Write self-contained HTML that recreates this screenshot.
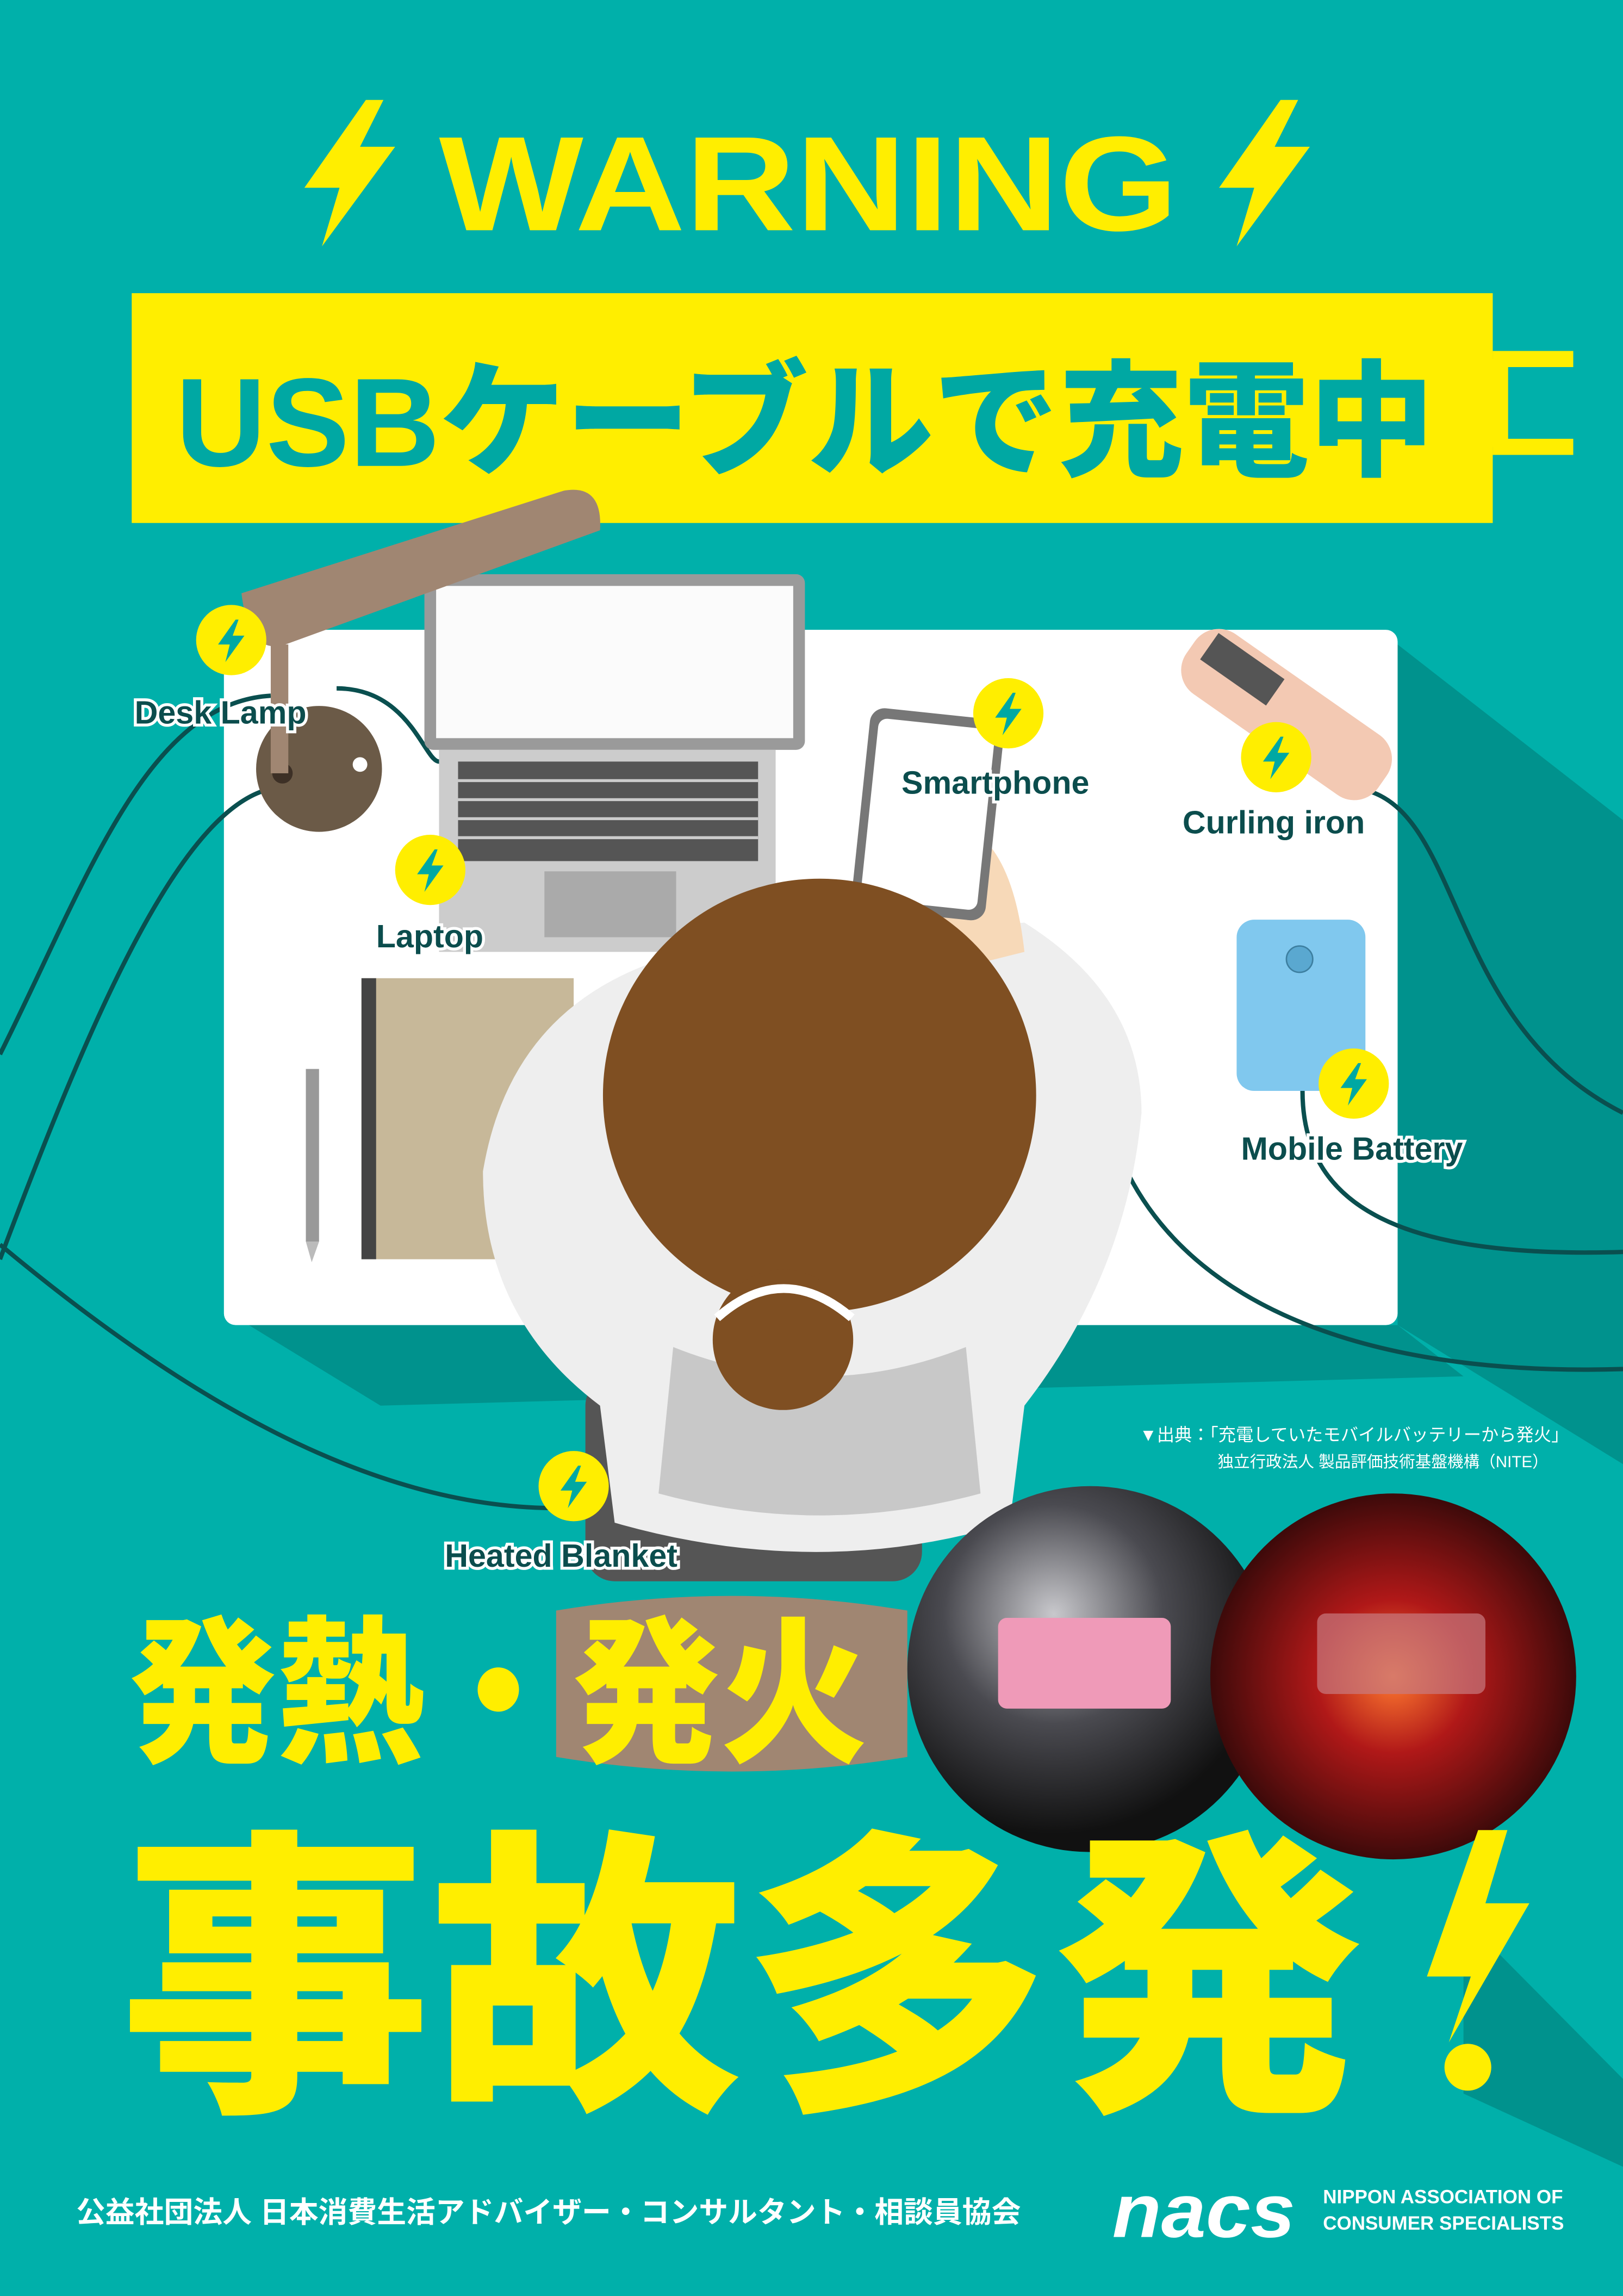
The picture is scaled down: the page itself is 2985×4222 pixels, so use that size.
<!DOCTYPE html>
<html><head><meta charset="utf-8"><style>
html,body{margin:0;padding:0;background:#00b0aa;}
svg{display:block;}
text{font-family:"Liberation Sans","Noto Sans CJK JP",sans-serif;}
</style></head><body>
<svg width="2985" height="4222" viewBox="0 0 1109 1568" xmlns="http://www.w3.org/2000/svg">
<defs>
<g id="b"><circle r="24" fill="#ffee00"/><polygon points="3,-14 -9,3 -1,3 -4,15 9,-3 1,-3 5,-14" fill="#00a8a3"/></g>
<radialGradient id="smk" cx="0.4" cy="0.35" r="0.6"><stop offset="0" stop-color="#c8c8cc"/><stop offset="0.5" stop-color="#4a4a50"/><stop offset="1" stop-color="#111"/></radialGradient>
<radialGradient id="fire" cx="0.5" cy="0.5" r="0.6"><stop offset="0" stop-color="#ff7a30"/><stop offset="0.35" stop-color="#b01818"/><stop offset="1" stop-color="#150505"/></radialGradient>
</defs>
<rect width="1109" height="1568" fill="#00b0aa"/>
<polygon points="955,440 1109,560 1109,1000 955,905" fill="#00928d"/>
<polygon points="170,905 955,905 1000,940 260,960" fill="#00928d"/>
<polygon points="1000,1310 1109,1420 1109,1480 1000,1430" fill="#00928d"/>
<g fill="#ffee00">
<polygon points="250,68 208,128 232,128 220,168 270,100 246,100 262,68"/>
<polygon points="875,68 833,128 857,128 845,168 895,100 871,100 887,68"/>
</g>
<text x="300" y="157" font-size="92" font-weight="bold" fill="#ffee00" textLength="505" lengthAdjust="spacingAndGlyphs">WARNING</text>
<rect x="90" y="200" width="930" height="157" fill="#ffee00"/>
<path d="M1020,245 H1075 M1020,305 H1075 M1025,245 V305" stroke="#ffee00" stroke-width="11" fill="none"/>
<text x="120" y="318" font-size="86" font-weight="900" fill="#00a8a3" textLength="860" lengthAdjust="spacingAndGlyphs">USBケーブルで充電中</text>
<rect x="153" y="430" width="802" height="475" rx="8" fill="#ffffff"/>
<g stroke="#0a4f4f" stroke-width="3" fill="none">
<path d="M185,475 C100,480 60,600 0,720"/>
<path d="M180,540 C120,560 60,700 0,860"/>
<path d="M230,470 C280,470 290,520 300,520"/>
<path d="M0,850 C120,950 250,1030 380,1030"/>
<path d="M935,540 C1000,560 990,700 1109,760"/>
<path d="M890,745 C890,820 950,860 1109,855"/>
<path d="M770,800 C820,900 950,940 1109,935"/>
<path d="M640,620 L640,650"/>
</g>
<rect x="290" y="392" width="260" height="120" rx="6" fill="#9a9a9a"/>
<rect x="298" y="400" width="244" height="104" fill="#fbfbfb"/>
<polygon points="300,512 530,512 530,650 300,650" fill="#cccccc"/>
<rect x="313" y="520" width="205" height="68" fill="#555"/>
<g stroke="#ccc" stroke-width="2"><path d="M313,533H518M313,546H518M313,559H518M313,572H518"/></g>
<rect x="372" y="595" width="90" height="45" fill="#aaa"/>
<circle cx="218" cy="525" r="43" fill="#6b5a47"/>
<circle cx="246" cy="522" r="5" fill="#fff"/>
<circle cx="193" cy="528" r="7" fill="#3d3026"/>
<rect x="185" y="440" width="12" height="88" fill="#a08672"/>
<path d="M165,405 L385,335 Q412,330 410,362 L195,440 Q170,448 165,405 Z" fill="#a08672"/>
<rect x="247" y="668" width="145" height="192" fill="#c7b899"/>
<rect x="247" y="668" width="10" height="192" fill="#444"/>
<rect x="209" y="730" width="9" height="118" fill="#999"/>
<polygon points="209,848 218,848 213,862" fill="#bbb"/>
<path d="M380,1100 Q500,1080 620,1100 L620,1200 Q500,1220 380,1200 Z" fill="#a08672"/>
<rect x="400" y="940" width="230" height="140" rx="20" fill="#555"/>
<path d="M330,800 Q350,680 470,650 L700,630 Q780,680 780,760 Q770,870 700,960 L690,1040 Q560,1080 420,1040 L410,960 Q330,900 330,800 Z" fill="#eeeeee"/>
<path d="M460,920 Q560,960 660,920 L670,1020 Q560,1050 450,1020 Z" fill="#c8c8c8"/>
<path d="M640,560 Q690,560 700,650 L660,660 Q640,620 620,600 Z" fill="#f7d9b8"/>
<rect x="588" y="487" width="92" height="138" rx="10" fill="#777" transform="rotate(6 634 556)"/>
<rect x="594" y="494" width="80" height="124" rx="6" fill="#fff" transform="rotate(6 634 556)"/>
<circle cx="560" cy="748" r="148" fill="#7f4f22"/>
<circle cx="535" cy="915" r="48" fill="#7f4f22"/>
<path d="M490,900 Q535,860 582,900" stroke="#fff" stroke-width="6" fill="none"/>
<g transform="rotate(35 875 485)">
<rect x="800" y="460" width="160" height="50" rx="20" fill="#f3c9b3"/>
<rect x="810" y="466" width="55" height="22" fill="#555"/>
</g>
<rect x="845" y="628" width="88" height="117" rx="12" fill="#80c8ee"/>
<circle cx="888" cy="655" r="9" fill="#5aa8d0" stroke="#3d7fa0"/>
<use href="#b" x="158" y="437"/>
<use href="#b" x="294" y="594"/>
<use href="#b" x="689" y="487"/>
<use href="#b" x="872" y="517"/>
<use href="#b" x="925" y="740"/>
<use href="#b" x="392" y="1015"/>
<g font-size="22" font-weight="bold" fill="#0b4d4d" stroke="#fff" stroke-width="4" paint-order="stroke">
<text x="92" y="494">Desk Lamp</text>
<text x="257" y="647">Laptop</text>
<text x="616" y="542">Smartphone</text>
<text x="808" y="569">Curling iron</text>
<text x="848" y="792">Mobile Battery</text>
<text x="304" y="1070">Heated Blanket</text>
</g>
<text x="1072" y="984" font-size="12" fill="#fff" text-anchor="end" font-family="Noto Sans CJK JP">▼出典：「充電していたモバイルバッテリーから発火」</text>
<text x="1058" y="1002" font-size="11" fill="#fff" text-anchor="end" font-family="Noto Sans CJK JP">独立行政法人 製品評価技術基盤機構（NITE）</text>
<circle cx="745" cy="1140" r="125" fill="url(#smk)"/>
<rect x="682" y="1105" width="118" height="62" rx="6" fill="#ef9ab8"/>
<circle cx="952" cy="1145" r="125" fill="url(#fire)"/>
<rect x="900" y="1102" width="115" height="55" rx="6" fill="#c87a80" opacity="0.7"/>
<text x="88" y="1195" font-size="108" font-weight="900" fill="#ffee00" font-family="Noto Sans CJK JP" textLength="505" lengthAdjust="spacingAndGlyphs">発熱・発火</text>
<text x="82" y="1425" font-size="205" font-weight="900" fill="#ffee00" font-family="Noto Sans CJK JP" textLength="850" lengthAdjust="spacingAndGlyphs">事故多発</text>
<polygon points="1010,1250 975,1350 1005,1350 990,1395 1045,1300 1015,1300 1030,1250" fill="#ffee00"/>
<circle cx="1003" cy="1412" r="16" fill="#ffee00"/>
<text x="52" y="1518" font-size="20" font-weight="bold" fill="#fff" font-family="Noto Sans CJK JP">公益社団法人  日本消費生活アドバイザー・コンサルタント・相談員協会</text>
<text x="760" y="1528" font-size="52" font-weight="900" fill="#fff" font-style="italic" textLength="125" lengthAdjust="spacingAndGlyphs">nacs</text>
<text x="904" y="1505" font-size="13" font-weight="bold" fill="#fff">NIPPON ASSOCIATION OF</text>
<text x="904" y="1523" font-size="13" font-weight="bold" fill="#fff">CONSUMER SPECIALISTS</text>
</svg>
</body></html>
